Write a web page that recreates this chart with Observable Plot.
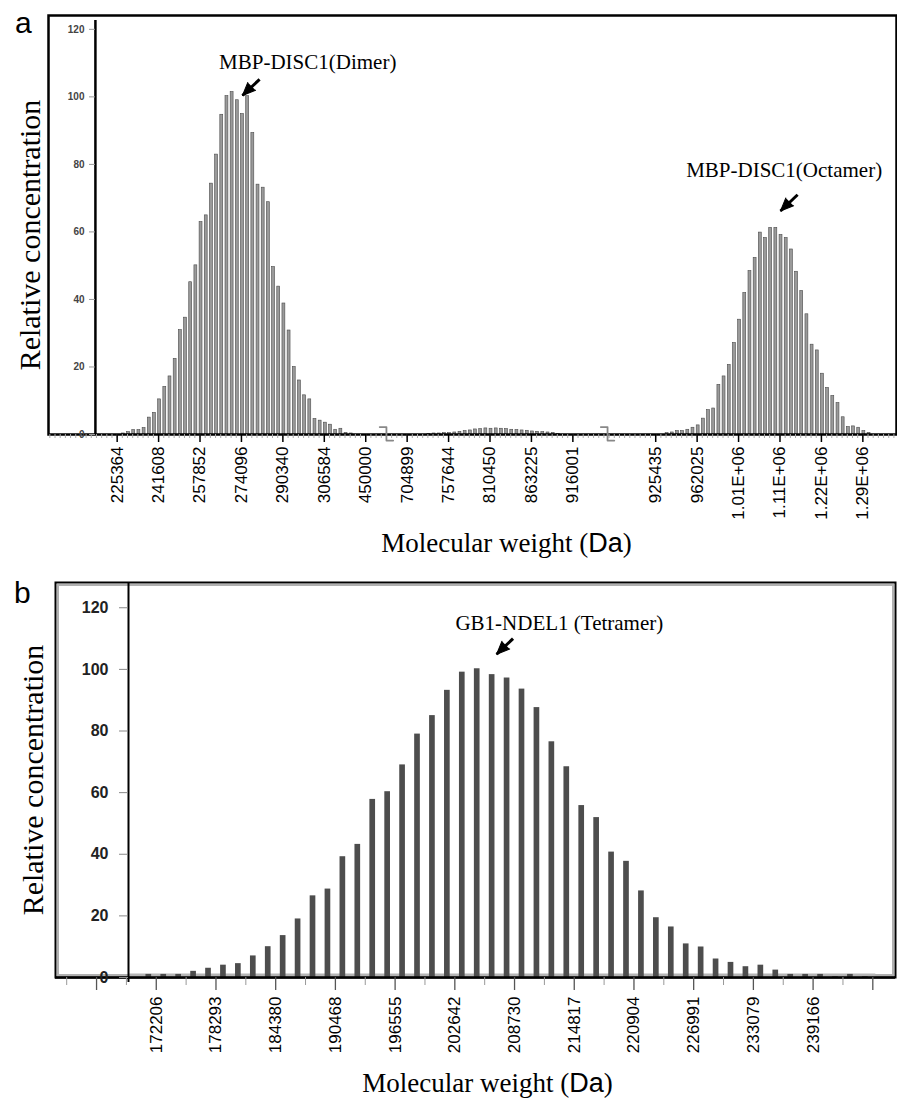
<!DOCTYPE html>
<html>
<head>
<meta charset="utf-8">
<script src="https://cdn.jsdelivr.net/npm/d3@7"></script>
<script src="https://cdn.jsdelivr.net/npm/@observablehq/plot@0.6"></script>
<style>
  html, body { margin: 0; padding: 0; background: #fff; }
  body { width: 897px; height: 1100px; position: relative; overflow: hidden; font-family: "Liberation Sans", Arial, sans-serif; }
  .abs { position: absolute; }
  .plabel { font-family: "Liberation Sans", Arial, sans-serif; font-size: 30px; line-height: 1; color: #000; }
</style>
</head>
<body>
<div id="panelA" class="abs" style="left:0;top:0"></div>
<div id="panelB" class="abs" style="left:0;top:560px"></div>
<div class="abs plabel" style="left:15px;top:8px">a</div>
<div class="abs plabel" style="left:14px;top:578px">b</div>
<script>
// ---------------- Panel a data (category = bin index along a broken axis) ----------------
const aDimerBins = d3.range(1, 46);
const aDimerValues = [0.3, 0.7, 1.3, 1.3, 1.9, 5.0, 6.4, 10.4, 14.1, 17.2, 22.4, 30.9, 34.6, 45.1, 50.1,
  62.9, 64.9, 74.3, 82.9, 94.7, 100.2, 101.4, 99.0, 94.9, 100.2, 89.3, 74.0, 73.1, 68.8, 49.6,
  43.8, 38.8, 30.8, 20.0, 16.0, 11.6, 10.4, 4.6, 4.1, 3.5, 2.9, 1.4, 1.7, 0.5, 0.3];
const aMiddleBins = d3.range(60, 86);
const aMiddleValues = [0.2, 0.3, 0.3, 0.4, 0.4, 0.6, 0.8, 1.0, 1.2, 1.5, 1.6, 1.8, 1.7, 1.8, 1.7,
  1.6, 1.4, 1.3, 1.2, 1.1, 0.9, 0.8, 0.7, 0.6, 0.5, 0.2];
const aOctamerBins = d3.range(106, 146);
const aOctamerValues = [0.4, 0.6, 1.0, 1.0, 1.4, 2.0, 2.7, 4.7, 7.2, 7.7, 14.7, 17.2, 20.6, 27.1, 34.0,
  41.9, 48.4, 52.3, 59.8, 58.2, 61.2, 61.2, 59.1, 58.2, 54.8, 48.2, 42.5, 35.6, 26.6, 24.9,
  18.0, 13.8, 11.4, 9.3, 5.1, 2.2, 2.4, 2.0, 1.0, 0.5];
const aTickSlots = [0, 1, 2, 3, 4, 5, 6, 7, 8, 9, 10, 11, 13, 14, 15, 16, 17, 18];
const aTickLabels = ["225364", "241608", "257852", "274096", "290340", "306584", "450000",
  "704899", "757644", "810450", "863225", "916001",
  "925435", "962025", "1.01E+06", "1.11E+06", "1.22E+06", "1.29E+06"];
const aBinsPerTick = 8;
const aBreaks = [51.8, 94.5];
const aYTicks = [0, 20, 40, 60, 80, 100, 120];
const aAnnotations = [
  {text: "MBP-DISC1(Dimer)", x: 36.6, y: 110.2, ax1: 27.3, ay1: 105.2, ax2: 24.0, ay2: 100.4},
  {text: "MBP-DISC1(Octamer)", x: 128.6, y: 78.2, ax1: 131.2, ay1: 71.0, ax2: 127.9, ay2: 66.2}
];

// ---------------- Panel b data ----------------
const bBins = d3.range(0, 49);
const bValues = [1, 1, 1, 2, 3, 4, 4.5, 7, 10, 13.6, 19, 26.5, 28.7, 39.2, 43.2, 57.8, 60.3, 69, 79, 85,
  93.2, 99.1, 100.2, 98.3, 97.2, 93.6, 87.6, 76.5, 68.4, 55.8, 51.9, 40.7, 37.7, 28.1, 19.4,
  16.4, 10.9, 9.9, 6, 4.9, 3.5, 4, 2.4, 1, 1, 1, 0.3, 1, 0.3];
const bTickLabels = ["172206", "178293", "184380", "190468", "196555", "202642", "208730",
  "214817", "220904", "226991", "233079", "239166"];
const bBinsPerTick = 4;
const bYTicks = [0, 20, 40, 60, 80, 100, 120];
const bAnnotations = [
  {text: "GB1-NDEL1 (Tetramer)", x: 27.5, y: 114.9, ax1: 24.4, ay1: 110.0, ax2: 23.3, ay2: 104.9}
];

const serif = "'Liberation Serif', 'Times New Roman', serif";
const sans = "'Liberation Sans', Arial, sans-serif";

function finish(svg) {
  d3.select(svg).selectAll("text").each(function() {
    if (this.textContent === "Molecular weight (Da)") {
      const t = d3.select(this);
      t.text(null);
      t.append("tspan").text("Molecular weight (");
      t.append("tspan").attr("font-family", sans).text("Da");
      t.append("tspan").text(")");
    }
  });
}

// arrow = shaft (link) + solid triangular head (spike vector at the tip)
function arrowMarks(data) {
  return [
    Plot.link(data, {x1: "ax1", y1: "ay1", x2: "ax2", y2: "ay2", stroke: "#000", strokeWidth: 3}),
    Plot.vector(data, {x: "ax2", y: "ay2", rotate: 225, length: 13, anchor: "end", shape: "spike", r: 5.5, fill: "#000", stroke: "#000", strokeWidth: 1})
  ];
}

// ---------------- Panel a ----------------
{
  const bars = [
    ...aDimerBins.map((j, i) => ({j, v: aDimerValues[i]})),
    ...aMiddleBins.map((j, i) => ({j, v: aMiddleValues[i]})),
    ...aOctamerBins.map((j, i) => ({j, v: aOctamerValues[i]}))
  ];
  const tickPos = aTickSlots.map(s => s * aBinsPerTick - 0.2);
  const labelAt = new Map(tickPos.map((p, i) => [p, aTickLabels[i]]));
  const yAxisIdx = -4.4;
  const minor = d3.range(-13, 151).map(d => d - 0.2);
  const breakLines = aBreaks.flatMap((b, k) => [
    {k, x: b - 1.3, y: 2.2}, {k, x: b, y: 2.2}, {k, x: b, y: -1.8}, {k, x: b + 1.3, y: -1.8}
  ]);
  const svg = Plot.plot({
    width: 897, height: 560,
    marginLeft: 48, marginRight: 1, marginTop: 15, marginBottom: 126,
    x: {domain: [-13.46, 150.3], axis: null},
    y: {domain: [0, 124.1], axis: null},
    marks: [
      Plot.rectY(bars, {x1: d => d.j - 0.28, x2: d => d.j + 0.28, y: "v", fill: "#9a9a9a", stroke: "#4a4a4a", strokeWidth: 0.6}),
      Plot.frame({stroke: "#000", strokeWidth: 2.5}),
      Plot.ruleX([yAxisIdx], {stroke: "#000", strokeWidth: 2.5, insetTop: 5}),
      Plot.axisX(minor, {tickSize: 4, stroke: "#aaa", tickFormat: () => "", label: null}),
      Plot.axisX(tickPos, {tickSize: 8, strokeWidth: 1.5, tickRotate: -90, tickPadding: 4,
        tickFormat: d => labelAt.get(d), fontSize: 17, fontFamily: sans, fill: "#000", label: null}),
      Plot.axisY(aYTicks, {anchor: "left", dx: 47, tickSize: 6, tickPadding: 5, stroke: "#999",
        fontSize: 10, fontWeight: "bold", fontFamily: sans, fill: "#444", label: null}),
      Plot.line(breakLines, {x: "x", y: "y", z: "k", stroke: "#888", strokeWidth: 1.8}),
      Plot.text(aAnnotations, {x: "x", y: "y", text: "text", fontFamily: serif, fontSize: 21, fill: "#000", lineAnchor: "middle"}),
      ...arrowMarks(aAnnotations),
      Plot.text(["Relative concentration"], {frameAnchor: "left", textAnchor: "middle", lineAnchor: "middle", rotate: -90, dx: -18, dy: 10, fontFamily: serif, fontSize: 30, fill: "#000"}),
      Plot.text(["Molecular weight (Da)"], {frameAnchor: "bottom", textAnchor: "middle", dx: 34, dy: 109, fontFamily: serif, fontSize: 27, fill: "#000", lineAnchor: "middle"})
    ]
  });
  finish(svg);
  document.getElementById("panelA").appendChild(svg);
}

// ---------------- Panel b ----------------
{
  const bars = bBins.map((k, i) => ({k, v: bValues[i]}));
  const majorAll = d3.range(-1, 13).map(m => m * bBinsPerTick + 0.5);
  const labelAt = new Map(bTickLabels.map((l, m) => [m * bBinsPerTick + 0.5, l]));
  const minor = d3.range(-6, 13).map(m => m * bBinsPerTick + 2.5).filter(d => d > -6 && d < 49);
  const yAxisK = -1.36;
  const svg = Plot.plot({
    width: 897, height: 540,
    marginLeft: 55, marginRight: 2, marginTop: 22, marginBottom: 123,
    x: {domain: [-6.25, 50.02], axis: null},
    y: {domain: [0, 128.2], axis: null},
    marks: [
      Plot.frame({stroke: "#b0b0b0", strokeWidth: 2, inset: 2.5}),
      Plot.frame({stroke: "#000", strokeWidth: 2}),
      Plot.ruleY([0], {x1: yAxisK, x2: 48.7, stroke: "#b5b5b5", strokeWidth: 3, dy: -2.5}),
      Plot.rectY(bars, {x1: d => d.k - 0.19, x2: d => d.k + 0.19, y: "v", fill: "#4d4d4d"}),
      Plot.ruleX([yAxisK], {stroke: "#000", strokeWidth: 2, insetBottom: -5}),
      Plot.ruleY([0], {stroke: "#000", strokeWidth: 2.5}),
      Plot.axisX(minor, {tickSize: 8, stroke: "#999", tickFormat: () => "", label: null}),
      Plot.axisX(majorAll, {tickSize: 13, stroke: "#555", strokeWidth: 1.3, tickRotate: -90, tickPadding: 6,
        tickFormat: d => labelAt.get(d) ?? "", fontSize: 17, fontFamily: sans, fill: "#000", label: null}),
      Plot.axisY(bYTicks, {anchor: "left", dx: 73, tickSize: 9, tickPadding: 11, stroke: "#888",
        fontSize: 16, fontWeight: "bold", fontFamily: sans, fill: "#222", label: null}),
      Plot.text(bAnnotations, {x: "x", y: "y", text: "text", fontFamily: serif, fontSize: 21, fill: "#000", lineAnchor: "middle"}),
      ...arrowMarks(bAnnotations),
      Plot.text(["Relative concentration"], {frameAnchor: "left", textAnchor: "middle", lineAnchor: "middle", rotate: -90, dx: -22, dy: 0, fontFamily: serif, fontSize: 30, fill: "#000"}),
      Plot.text(["Molecular weight (Da)"], {frameAnchor: "bottom", textAnchor: "middle", dx: 12, dy: 106, fontFamily: serif, fontSize: 27, fill: "#000", lineAnchor: "middle"})
    ]
  });
  finish(svg);
  document.getElementById("panelB").appendChild(svg);
}
</script>
</body>
</html>
